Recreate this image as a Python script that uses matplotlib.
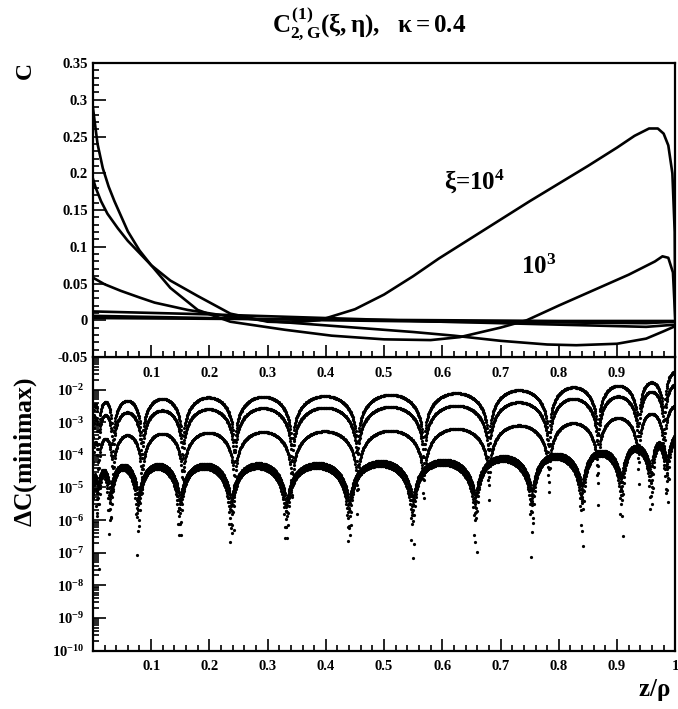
import numpy as np
import matplotlib.pyplot as plt
from matplotlib.ticker import MultipleLocator, LogLocator, FixedLocator, FuncFormatter, NullFormatter

plt.rcParams["font.family"] = "Liberation Serif"
plt.rcParams["font.weight"] = "bold"
plt.rcParams["mathtext.fontset"] = "custom"
plt.rcParams["mathtext.rm"] = "Liberation Serif:bold"
plt.rcParams["mathtext.it"] = "Liberation Serif:bold"
plt.rcParams["mathtext.bf"] = "Liberation Serif:bold"

# ---- upper panel: C(z/rho) for several xi
x_1e4 = [0, 0.005, 0.014, 0.025, 0.043, 0.06, 0.077, 0.1, 0.133, 0.18, 0.236, 0.3, 0.34, 0.389,
         0.45, 0.5, 0.55, 0.594, 0.65, 0.7, 0.75, 0.8, 0.85, 0.9, 0.93, 0.955, 0.97, 0.98, 0.988, 0.995, 0.999, 1.0]
c_1e4 = [0.193, 0.18, 0.162, 0.145, 0.125, 0.108, 0.094, 0.075, 0.054, 0.033, 0.009, -0.002, -0.003, 0.0,
         0.015, 0.035, 0.06, 0.084, 0.112, 0.137, 0.162, 0.186, 0.21, 0.235, 0.251, 0.261, 0.261, 0.254, 0.238, 0.2, 0.12, 0.0]

x_1e3 = [0, 0.003, 0.008, 0.017, 0.027, 0.037, 0.06, 0.08, 0.1, 0.133, 0.18, 0.236, 0.27, 0.33,
         0.41, 0.5, 0.58, 0.63, 0.7, 0.745, 0.8, 0.86, 0.92, 0.965, 0.978, 0.988, 0.996, 1.0]
c_1e3 = [0.29, 0.271, 0.24, 0.207, 0.182, 0.162, 0.121, 0.095, 0.075, 0.044, 0.014, -0.002, -0.006, -0.013,
         -0.021, -0.026, -0.027, -0.023, -0.01, 0.0, 0.02, 0.041, 0.062, 0.08, 0.087, 0.085, 0.065, 0.0]

x_1e2 = [0, 0.02, 0.048, 0.08, 0.106, 0.163, 0.236, 0.3, 0.35, 0.45, 0.55, 0.62, 0.7, 0.78, 0.83,
         0.9, 0.95, 0.98, 1.0]
c_1e2 = [0.058, 0.049, 0.04, 0.031, 0.024, 0.014, 0.005, -0.001, -0.004, -0.01, -0.016, -0.021, -0.028,
         -0.033, -0.034, -0.032, -0.025, -0.015, -0.008]

x_flat = [0, 0.2, 0.4, 0.6, 0.8, 0.95, 1.0]
c_1e1 = [0.012, 0.008, 0.003, -0.002, -0.006, -0.009, -0.006]
c_1e0 = [0.006, 0.003, 0.0, -0.002, -0.003, -0.004, -0.002]
c_1em1 = [0.003, 0.002, 0.001, 0.0, -0.001, -0.001, -0.001]

# ---- lower panel: minimax error arcs, cusp positions and log10 of arc peaks
zeros_hi = [0.0, 0.009, 0.034, 0.084, 0.154, 0.243, 0.342, 0.454, 0.568, 0.68, 0.783, 0.867, 0.937, 0.981, 1.02]
peaks_row1 = [-2.45, -2.38, -2.34, -2.28, -2.24, -2.22, -2.2, -2.16, -2.11, -2.02, -1.93, -1.88, -1.78, -1.45]
peaks_row2 = [-2.85, -2.78, -2.7, -2.64, -2.6, -2.57, -2.55, -2.53, -2.49, -2.39, -2.28, -2.21, -2.06, -1.85]
peaks_row3 = [-3.6, -3.5, -3.4, -3.35, -3.32, -3.3, -3.28, -3.26, -3.2, -3.1, -3.03, -2.87, -2.74, -2.5]

zeros_lo = [0.0, 0.008, 0.029, 0.077, 0.149, 0.237, 0.332, 0.44, 0.549, 0.657, 0.754, 0.84, 0.908, 0.959, 0.986, 1.02]
peaks_lo = [-4.6, -4.45, -4.3, -4.28, -4.27, -4.26, -4.25, -4.19, -4.15, -4.04, -3.97, -3.87, -3.72, -3.62, -3.4]
lo_peak_shift = [0.0, -0.08, -0.15]
lo_zero_shift = [0.0, 0.002, -0.002]

x_samples = np.linspace(0, 1, 1400)


def arc_values(zeros, peaks):
    z = np.array(zeros)
    a = 10.0 ** np.array(peaks)
    i = np.clip(np.searchsorted(z, x_samples, side="right") - 1, 0, len(a) - 1)
    t = (x_samples - z[i]) / (z[i + 1] - z[i])
    v = a[i] * np.abs(np.sin(np.pi * t))
    return np.where(v > 1e-12, v, np.nan)


fig = plt.figure(figsize=(6.78, 7.09), dpi=100)
ax1 = fig.add_axes([0.137, 0.4965, 0.859, 0.4145])
ax2 = fig.add_axes([0.137, 0.0825, 0.859, 0.414])
ax2.patch.set_visible(False)
ax1.set_zorder(3)

lw = 1.9
ax1.plot(x_1e4, c_1e4, color="k", lw=lw)
ax1.plot(x_1e3, c_1e3, color="k", lw=lw)
ax1.plot(x_1e2, c_1e2, color="k", lw=lw)
ax1.plot(x_flat, c_1e1, color="k", lw=lw)
ax1.plot(x_flat, c_1e0, color="k", lw=lw)
ax1.plot(x_flat, c_1em1, color="k", lw=lw)
ax1.text(0.655, 0.19, r"$\xi$=10$^4$", fontsize=18, ha="center", va="center")
ax1.text(0.765, 0.072, r"10$^3$", fontsize=18, ha="center", va="center")

ax1.set_xlim(0, 1)
ax1.set_ylim(-0.05, 0.35)
ax1.xaxis.set_major_locator(FixedLocator([0.1, 0.2, 0.3, 0.4, 0.5, 0.6, 0.7, 0.8, 0.9]))
ax1.xaxis.set_minor_locator(MultipleLocator(0.02))
ax1.yaxis.set_major_locator(MultipleLocator(0.05))
ax1.yaxis.set_minor_locator(MultipleLocator(0.01))
ax1.xaxis.set_major_formatter(FuncFormatter(lambda v, p: "%g" % round(v, 2)))
ax1.yaxis.set_major_formatter(FuncFormatter(lambda v, p: "%g" % round(v, 2)))

for z, pk in [(zeros_hi, peaks_row1), (zeros_hi, peaks_row2), (zeros_hi, peaks_row3)]:
    ax2.plot(x_samples, arc_values(z, pk), ls="none", marker="o", ms=2.3, mew=0, color="k")
for dp, dz in zip(lo_peak_shift, lo_zero_shift):
    zz = [zeros_lo[0]] + [v + dz for v in zeros_lo[1:-1]] + [zeros_lo[-1]]
    ax2.plot(x_samples, arc_values(zz, [p + dp for p in peaks_lo]), ls="none", marker="o", ms=2.3, mew=0, color="k")

ax2.set_yscale("log")
ax2.set_xlim(0, 1)
ax2.set_ylim(1e-10, 1e-1)
ax2.xaxis.set_major_locator(FixedLocator([0.1, 0.2, 0.3, 0.4, 0.5, 0.6, 0.7, 0.8, 0.9, 1.0]))
ax2.xaxis.set_minor_locator(MultipleLocator(0.02))
ax2.xaxis.set_major_formatter(FuncFormatter(lambda v, p: "%g" % round(v, 2)))
ax2.yaxis.set_major_locator(FixedLocator([10.0 ** k for k in range(-10, -1)]))
ax2.yaxis.set_minor_locator(LogLocator(base=10, subs=np.arange(2, 10), numticks=20))
ax2.yaxis.set_minor_formatter(NullFormatter())
ax2.yaxis.set_major_formatter(FuncFormatter(lambda v, p: r"10$^{%d}$" % round(np.log10(v))))

for ax in (ax1, ax2):
    for s in ax.spines.values():
        s.set_linewidth(1.6)
    ax.tick_params(which="both", direction="in", top=False, right=False, width=1.2, labelsize=10.5)
    ax.tick_params(which="major", length=9)
    ax.tick_params(which="minor", length=4.5)
ax1.tick_params(axis="x", pad=7)
ax2.tick_params(axis="x", pad=7)
ax2.tick_params(axis="y", pad=6)

fig.text(0.545, 0.965, r"$C^{(1)}_{2,G}(\xi,\eta),\ \ \kappa = 0.4$", fontsize=18, ha="center", va="center")
fig.text(0.037, 0.9, "C", fontsize=17, rotation=90, ha="center", va="center")
fig.text(0.037, 0.363, r"$\Delta$C(minimax)", fontsize=18.5, rotation=90, ha="center", va="center")
fig.text(0.965, 0.027, r"z/$\rho$", fontsize=18, ha="center", va="center")

fig.savefig("out.png", dpi=100)
